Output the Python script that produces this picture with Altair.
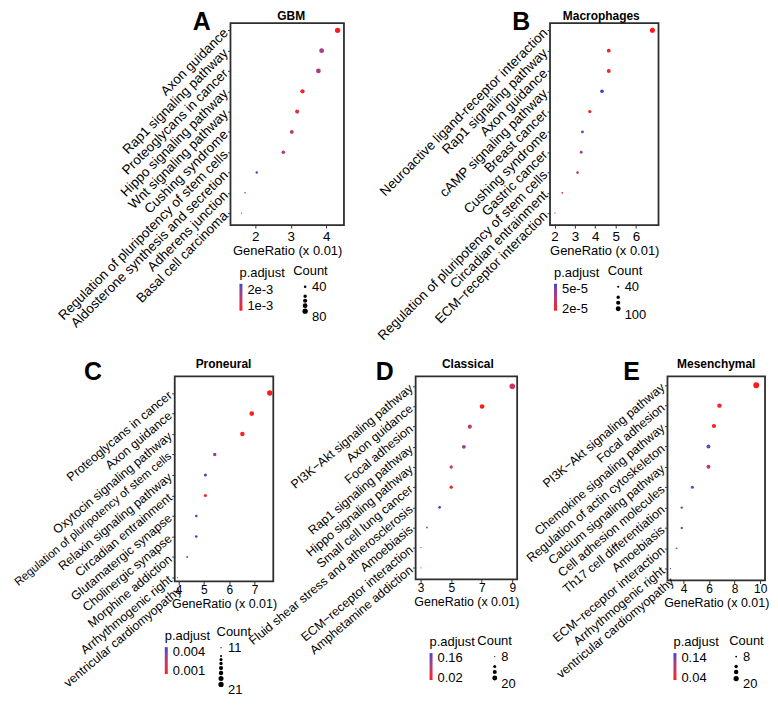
import altair as alt
import pandas as pd

FONT = "Liberation Sans"
RED = "#ff1a1a"
BLUE = "#3246c8"
ARVC = "Arrhythmogenic right ventricular cardiomyopathy"
REG = "Regulation of pluripotency of stem cells"

panel_letters = ["A", "B", "C", "D", "E"]
panel_titles = ["GBM", "Macrophages", "Proneural", "Classical", "Mesenchymal"]

a_terms = ["Axon guidance", "Rap1 signaling pathway", "Proteoglycans in cancer",
           "Hippo signaling pathway", "Wnt signaling pathway", "Cushing syndrome",
           REG, "Aldosterone synthesis and secretion",
           "Adherens junction", "Basal cell carcinoma"]
a_ratio = [4.32, 3.87, 3.78, 3.33, 3.18, 3.03, 2.79, 2.04, 1.71, 1.61]
a_count = [80, 72, 70, 62, 59, 56, 52, 38, 32, 30]
a_padj = [0.00069, 0.00166, 0.00170, 0.00077, 0.00103, 0.00153, 0.00160, 0.00237, 0.00112, 0.00086]

b_terms = ["Neuroactive ligand-receptor interaction", "Rap1 signaling pathway", "Axon guidance",
           "cAMP signaling pathway", "Breast cancer", "Cushing syndrome", "Gastric cancer",
           REG, "Circadian entrainment", "ECM\u2212receptor interaction"]
b_ratio = [6.80, 4.66, 4.66, 4.33, 3.73, 3.37, 3.31, 3.13, 2.38, 2.02]
b_count = [105, 72, 72, 67, 58, 52, 51, 49, 37, 31]
b_padj = [1.70e-5, 1.85e-5, 1.85e-5, 5.75e-5, 1.90e-5, 5.10e-5, 4.40e-5, 4.20e-5, 2.80e-5, 4.30e-5]

c_terms = ["Proteoglycans in cancer", "Axon guidance", "Oxytocin signaling pathway",
           REG, "Relaxin signaling pathway",
           "Circadian entrainment", "Glutamatergic synapse", "Cholinergic synapse",
           "Morphine addiction", ARVC]
c_ratio = [7.60, 6.89, 6.52, 5.43, 5.06, 5.06, 4.70, 4.70, 4.34, 3.96]
c_count = [21, 19, 18, 15, 14, 14, 13, 13, 12, 11]
c_padj = [0.00055, 0.00072, 0.00078, 0.00370, 0.00452, 0.00065, 0.00455, 0.00475, 0.00310, 0.00130]

d_terms = ["PI3K\u2212Akt signaling pathway", "Axon guidance", "Focal adhesion",
           "Rap1 signaling pathway", "Hippo signaling pathway", "Small cell lung cancer",
           "Fluid shear stress and atherosclerosis", "Amoebiasis",
           "ECM\u2212receptor interaction", "Amphetamine addiction"]
d_ratio = [9.00, 7.02, 6.22, 5.83, 5.00, 5.00, 4.24, 3.41, 3.02, 3.02]
d_count = [24, 19, 16, 15, 13, 13, 11, 9, 8, 8]
d_padj = [0.075, 0.006, 0.090, 0.136, 0.090, 0.012, 0.192, 0.155, 0.183, 0.070]

e_terms = ["PI3K\u2212Akt signaling pathway", "Focal adhesion", "Chemokine signaling pathway",
           "Regulation of actin cytoskeleton", "Calcium signaling pathway",
           "Cell adhesion molecules", "Th17 cell differentiation", "Amoebiasis",
           "ECM\u2212receptor interaction", ARVC]
e_ratio = [9.69, 6.81, 6.38, 5.95, 5.95, 4.69, 3.86, 3.86, 3.45, 2.97]
e_count = [23, 16, 15, 14, 14, 11, 9, 9, 8, 7]
e_padj = [0.030, 0.037, 0.034, 0.143, 0.097, 0.143, 0.150, 0.116, 0.130, 0.163]

a_xticks, b_xticks, c_xticks, d_xticks, e_xticks = [2, 3, 4], [2, 3, 4, 5, 6], [4, 5, 6, 7], [3, 5, 7, 9], [4, 6, 8, 10]
a_pvals, b_pvals, c_pvals, d_pvals, e_pvals = [0.001, 0.002], [2e-5, 5e-5], [0.001, 0.004], [0.02, 0.16], [0.04, 0.14]
a_svals = [40, 50, 60, 70, 80]
b_svals = [40, 60, 80, 100]
c_svals = [11, 12, 14, 15, 17, 18, 20, 21]
d_svals = [8, 12, 16, 20]
e_svals = [8, 12, 16, 20]

LAB_EXPR = ("datum.label == '" + ARVC + "' ? ['Arrhythmogenic right', 'ventricular cardiomyopathy'] : datum.label")


def panel(letter, title, terms, ratio, count, padj, xticks, pvals, svals, cfg, anchor=None):
    df = pd.DataFrame({"Description": terms, "GeneRatio": ratio, "Count": count, "padj": padj})
    lo, hi = svals[0], svals[-1]
    size_lab = "datum.value == %s || datum.value == %s ? datum.label : ''" % (lo, hi)
    size_fs = "datum.value == %s || datum.value == %s ? 13 : 0" % (lo, hi)
    size_bl = "datum.value == %s ? 'middle' : 'top'" % lo
    if cfg.get("longfs"):
        ylab_fs = {"condition": {"test": "datum.value == '" + REG + "'", "value": cfg["longfs"]},
                   "value": cfg["fs"]}
    else:
        ylab_fs = cfg["fs"]
    pts = alt.Chart(df).mark_circle(opacity=1).encode(
        x=alt.X("GeneRatio:Q",
                scale=alt.Scale(domain=cfg["xdomain"], nice=False, zero=False),
                axis=alt.Axis(values=xticks, format="d", title="GeneRatio (x 0.01)",
                              labelFontSize=cfg["xfs"], titleFontSize=cfg["xtfs"],
                              labelPadding=cfg["xlp"], tickSize=3, titleBaseline="alphabetic",
                              titleY=cfg["titleY"], labelFlush=False, labelOverlap=False)),
        y=alt.Y("Description:N", sort=terms,
                scale=alt.Scale(type="point", padding=cfg["ypad"], align=cfg["yalign"]),
                axis=alt.Axis(title=None, labelAngle=cfg["angle"], labelAlign="right",
                              labelBaseline="middle", labelFontSize=ylab_fs, labelLimit=400,
                              labelPadding=2, tickSize=3, labelExpr=LAB_EXPR,
                              labelOverlap=False)),
        color=alt.Color("padj:Q",
                        scale=alt.Scale(domain=cfg["pdomain"], range=[RED, BLUE],
                                        interpolate="lab", zero=False, nice=False),
                        legend=alt.Legend(title="p.adjust", orient="none",
                                          legendX=cfg["cleg"][0], legendY=cfg["cleg"][1],
                                          direction="vertical", gradientLength=27,
                                          gradientThickness=3, values=pvals,
                                          format=cfg["pformat"], labelOffset=5,
                                          titlePadding=4, padding=0, labelOverlap=False,
                                          gradientStrokeWidth=0)),
        size=alt.Size("Count:Q",
                      scale=alt.Scale(domain=[min(count), max(count)], range=cfg["srange"],
                                      zero=False, nice=False),
                      legend=alt.Legend(title="Count", orient="none",
                                        legendX=cfg["sleg"][0], legendY=cfg["sleg"][1],
                                        values=svals, labelExpr=size_lab,
                                        labelFontSize=alt.ExprRef(size_fs),
                                        labelBaseline=alt.ExprRef(size_bl),
                                        symbolFillColor="black", symbolStrokeWidth=0,
                                        symbolType="circle", rowPadding=cfg["rowpad"],
                                        symbolOffset=cfg["soff"], labelOffset=4,
                                        titlePadding=7.5, padding=0)),
    )
    ann = pd.DataFrame({"letter": [letter], "title": [title]})
    let = alt.Chart(ann).mark_text(font=FONT, fontSize=25, fontWeight="bold", align="center",
                                   baseline="alphabetic", color="black").encode(
        text="letter:N", x=alt.value(cfg["lpos"][0]), y=alt.value(cfg["lpos"][1]))
    tit = alt.Chart(ann).mark_text(font=FONT, fontSize=12, fontWeight="bold", align="center",
                                   baseline="alphabetic", color="black").encode(
        text="title:N", x=alt.value(cfg["tpos"][0]), y=alt.value(cfg["tpos"][1]))
    layers = [pts, let, tit]
    if anchor is not None:
        # invisible page anchor (top-left corner of the figure)
        layers.append(alt.Chart(ann).mark_square(size=1, opacity=0).encode(
            x=alt.value(anchor[0]), y=alt.value(anchor[1])))
    return alt.layer(*layers).properties(width=cfg["w"], height=cfg["h"])


def spacer(w):
    return alt.Chart(pd.DataFrame({"s": [0]})).mark_point(opacity=0, size=1).encode(
        x=alt.value(1), y=alt.value(1)).properties(
        width=w, height=10, view=alt.ViewBackground(stroke="transparent"))


ROW1 = dict(fs=13.5, xfs=13.5, xtfs=13, xlp=1, titleY=30, ypad=0.473, yalign=0.38, angle=-45)
ROW2 = dict(fs=12.5, xfs=12, xtfs=12.5, xlp=0, titleY=26, angle=-40)

A = panel(panel_letters[0], panel_titles[0], a_terms, a_ratio, a_count, a_padj, a_xticks, a_pvals, a_svals,
          dict(ROW1, w=114, h=203, xdomain=[1.30, 4.50],
               pdomain=[0.00069, 0.00237], pformat="~e", srange=[1.5, 28],
               cleg=(9, 245), sleg=(63, 243), rowpad=0, soff=9, lpos=(-29, 7), tpos=(61, -3.5)),
          anchor=(-234, -24))
B = panel(panel_letters[1], panel_titles[1], b_terms, b_ratio, b_count, b_padj, b_xticks, b_pvals, b_svals,
          dict(ROW1, w=109, h=203, xdomain=[1.78, 7.10],
               pdomain=[1.70e-5, 5.75e-5], pformat="~e", srange=[1.5, 26],
               cleg=(4, 245), sleg=(58, 243), rowpad=1, soff=8, lpos=(-29, 7), tpos=(51.5, -3.5)))
C = panel(panel_letters[2], panel_titles[2], c_terms, c_ratio, c_count, c_padj, c_xticks, c_pvals, c_svals,
          dict(ROW2, w=99, h=206, xdomain=[3.85, 7.74], longfs=11.6, ypad=0.5, yalign=0.81,
               pdomain=[0.00055, 0.00475], pformat=".3f", srange=[1.5, 28],
               cleg=(-10, 255), sleg=(42, 251), rowpad=0, soff=1.5, lpos=(-82, 4), tpos=(49, -8)))
D = panel(panel_letters[3], panel_titles[3], d_terms, d_ratio, d_count, d_padj, d_xticks, d_pvals, d_svals,
          dict(ROW2, w=102, h=204, xdomain=[2.67, 9.32], ypad=0.535, yalign=0.46,
               pdomain=[0.006, 0.192], pformat=".2f", srange=[1.5, 32],
               cleg=(14, 261), sleg=(62, 260), rowpad=1, soff=15, lpos=(-31, 4), tpos=(52.5, -8)))
E = panel(panel_letters[4], panel_titles[4], e_terms, e_ratio, e_count, e_padj, e_xticks, e_pvals, e_svals,
          dict(ROW2, w=98, h=205, xdomain=[2.74, 10.38], ypad=0.505, yalign=0.43,
               pdomain=[0.030, 0.163], pformat=".2f", srange=[1.5, 34],
               cleg=(6, 261), sleg=(62, 260), rowpad=1, soff=4, lpos=(-36, 4), tpos=(49, -8)))

row1 = alt.hconcat(spacer(56), A, spacer(207), B, spacing=0, bounds="flush").resolve_scale(
    color="independent", size="independent").resolve_legend(color="independent", size="independent")
row2 = alt.hconcat(C, spacer(143), D, spacer(151), E, spacing=0, bounds="flush").resolve_scale(
    color="independent", size="independent").resolve_legend(color="independent", size="independent")

chart = alt.vconcat(row1, row2, spacing=355, bounds="flush").resolve_scale(
    color="independent", size="independent").resolve_legend(
    color="independent", size="independent").properties(
    padding={"left": -12.5, "top": -12.5, "right": 0, "bottom": 0}
).configure(font=FONT).configure_view(
    stroke="#2e2e2e", strokeWidth=1.8
).configure_axis(
    domain=False, grid=False, labelColor="black", titleColor="black", tickColor="#333333",
    labelFont=FONT, titleFont=FONT, titleFontWeight="normal"
).configure_legend(
    titleFont=FONT, labelFont=FONT, titleFontSize=13, labelFontSize=13,
    titleFontWeight="normal", titleColor="black", labelColor="black"
)

chart.save("out.html", embed_options={"renderer": "svg", "actions": False})
